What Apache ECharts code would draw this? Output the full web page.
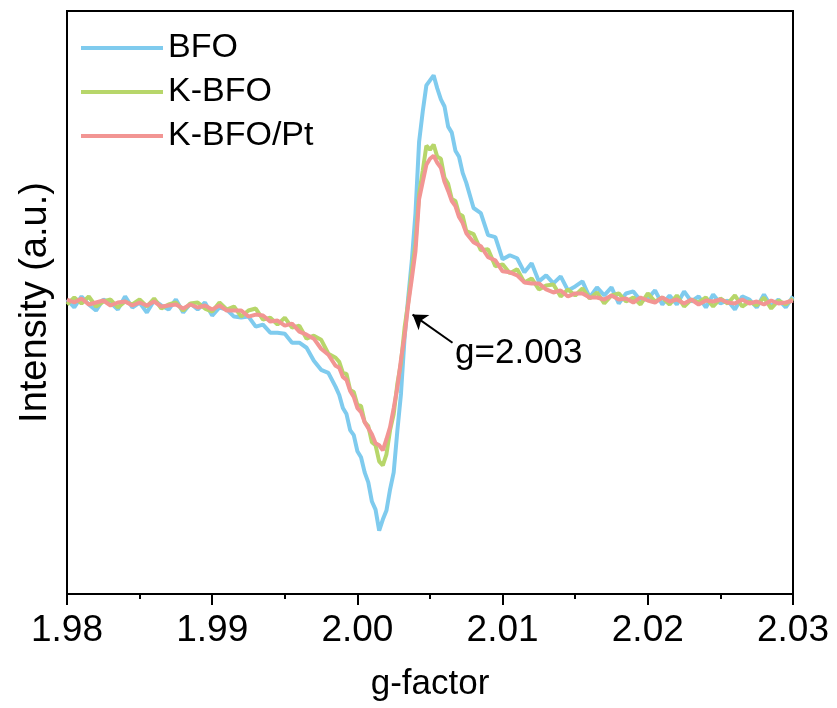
<!DOCTYPE html>
<html>
<head>
<meta charset="utf-8">
<script src="https://cdn.jsdelivr.net/npm/echarts@6/dist/echarts.min.js"></script>
<style>
html,body{margin:0;padding:0;background:#fff;}
#chart{width:837px;height:708px;}
</style>
</head>
<body>
<div id="chart"></div>
<script>
// g-factor sample positions
var gValues = [
  1.9800,1.9805,1.9810,1.9815,1.9820,1.9825,1.9830,1.9835,1.9840,1.9845,
  1.9850,1.9855,1.9860,1.9865,1.9870,1.9875,1.9880,1.9885,1.9890,1.9895,
  1.9900,1.9905,1.9910,1.9915,1.9920,1.9925,1.9930,1.9935,1.9940,1.9945,
  1.9950,1.9955,1.9960,1.9965,1.9970,1.9975,1.9980,1.9985,
  1.99875,1.99900,1.99925,1.99950,1.99975,2.00000,2.00025,2.00050,2.00075,2.00100,
  2.00125,2.00150,2.00175,2.00200,2.00225,2.00250,2.00275,2.00300,2.00325,2.00350,
  2.00375,2.00400,2.00425,2.00450,2.00475,2.00500,2.00525,2.00550,2.00575,2.00600,
  2.00625,2.00650,2.00675,2.00700,2.00725,2.00750,
  2.0080,2.0085,2.0090,2.0095,2.0100,2.0105,2.0110,2.0115,2.0120,2.0125,
  2.0130,2.0135,2.0140,2.0145,2.0150,2.0155,2.0160,2.0165,2.0170,2.0175,
  2.0180,2.0185,2.0190,2.0195,2.0200,2.0205,2.0210,2.0215,2.0220,2.0225,
  2.0230,2.0235,2.0240,2.0245,2.0250,2.0255,2.0260,2.0265,2.0270,2.0275,
  2.0280,2.0285,2.0290,2.0295,2.0300
];
// Intensity (arbitrary units)
var bfo = [
  3,-5,6,-2,-8,3,0,-7,6,-5,0,-10,2,-3,-7,3,-10,-1,-7,0,
  -13,-5,-7,-14,-15,-14,-24,-22,-30,-30,-31,-40,-40,-45,-58,-67,-70,-84,
  -92,-105,-111,-127,-132,-148,-154,-169,-179,-198,-206,-227,-216,-207,-186,-169,-128,-91,-35,5,
  42,89,160,190,216,221,226,213,202,195,175,169,151,145,129,119,
  94,89,67,65,43,47,44,30,39,21,27,19,26,12,16,21,5,15,7,15,
  -1,9,11,2,4,12,-2,7,-2,11,1,6,-5,8,-1,2,-7,6,3,-5,8,-4,3,-5,6
];
var kbfo = [
  -2,5,-1,6,-4,1,3,-5,1,-2,3,-4,4,-6,-2,0,-8,-1,0,-6,
  -9,0,-7,-4,-14,-8,-6,-17,-15,-22,-15,-25,-23,-36,-33,-37,-51,-55,
  -59,-70,-71,-87,-89,-102,-103,-119,-123,-139,-142,-158,-162,-151,-127,-111,-81,-60,-25,0,
  31,58,108,131,156,152,157,145,143,124,118,103,101,88,86,71,
  68,52,53,36,38,29,33,20,24,13,17,18,6,13,7,14,4,10,-1,7,
  9,1,5,-2,9,1,5,-2,7,-4,3,0,5,-4,4,-1,7,-4,1,-3,5,-6,2,-2,4
];
var kbfoPt = [
  3,0,4,-2,0,2,-3,0,1,-3,0,-3,1,-4,-3,-2,-6,-2,-5,-3,
  -7,-3,-8,-8,-8,-14,-12,-13,-19,-18,-23,-21,-29,-32,-36,-46,-52,-63,
  -65,-74,-77,-88,-94,-105,-109,-119,-125,-131,-140,-142,-147,-136,-124,-105,-85,-57,-33,-2,
  24,51,103,120,137,143,146,139,134,120,111,101,96,85,79,69,
  60,56,45,42,31,30,27,20,19,19,13,10,12,6,9,9,5,5,3,7,
  3,4,0,5,2,0,5,1,3,-1,3,-2,2,1,3,0,-1,3,-1,1,-2,2,-1,0,2
];
var seriesNames = ['BFO','K-BFO','K-BFO/Pt'];
var seriesColors = ['#7FCBEE','#B7D66A','#F29593'];
var xTicks = [1.98,1.99,2.00,2.01,2.02,2.03];
// annotation (data space)
var annotArrow = [[2.00655,-40],[2.00380,-12]];
var annotText = {g:2.00669, v:-51, text:'g=2.003'};

function pairs(ys){ return gValues.map(function(g,i){ return [g, ys[i]]; }); }

var FONT = 'Liberation Sans, Arial, Helvetica, sans-serif';
var chart = echarts.init(document.getElementById('chart'), null, {renderer:'canvas'});
var allSeries = [bfo,kbfo,kbfoPt].map(function(arr,i){
  return {
    name: seriesNames[i], type:'line', data: pairs(arr),
    symbol:'none', showSymbol:false, smooth:false,
    lineStyle:{width:4, color:seriesColors[i]},
    itemStyle:{color:seriesColors[i]},
    emphasis:{disabled:true}, z: 2+i
  };
});
allSeries[2].markLine = {
  silent:true, symbol:['none','arrow'], symbolSize:14,
  lineStyle:{color:'#000', width:2, type:'solid'},
  itemStyle:{color:'#000'},
  label:{show:false}, emphasis:{disabled:true},
  data:[[{coord:annotArrow[0]},{coord:annotArrow[1]}]]
};
allSeries[2].markPoint = {
  silent:true, symbol:'circle', symbolSize:1,
  itemStyle:{color:'rgba(0,0,0,0)'},
  label:{show:true, position:'right', distance:0, formatter:annotText.text,
    fontSize:35, color:'#000', fontFamily:FONT},
  data:[{coord:[annotText.g, annotText.v]}]
};

chart.setOption({
  animation:false,
  backgroundColor:'#fff',
  grid:{left:67, right:44, top:11, bottom:114, show:true, borderColor:'#000', borderWidth:2, backgroundColor:'transparent'},
  legend:{
    show:true, left:76, top:23, orient:'vertical', icon:'rect',
    itemWidth:82, itemHeight:4, itemGap:4,
    data: seriesNames,
    textStyle:{fontSize:34, color:'#000', fontFamily:FONT, lineHeight:40, padding:[0,0,0,0]}
  },
  xAxis:{
    type:'value', min:xTicks[0], max:xTicks[xTicks.length-1], interval:0.01,
    name:'g-factor', nameLocation:'middle', nameGap:73,
    nameTextStyle:{fontSize:35, color:'#000', fontFamily:FONT},
    axisLine:{show:true, onZero:false, lineStyle:{color:'#000', width:2}},
    axisTick:{show:true, inside:false, length:11, lineStyle:{color:'#000', width:2}},
    minorTick:{show:true, splitNumber:2, length:5, lineStyle:{color:'#000', width:2}},
    axisLabel:{fontSize:37, color:'#000', fontFamily:FONT, margin:18,
      formatter:function(v){ return v.toFixed(2); }},
    splitLine:{show:false}
  },
  yAxis:{
    type:'value', min:-290, max:290,
    name:'Intensity (a.u.)', nameLocation:'middle', nameGap:12,
    nameTextStyle:{fontSize:38, color:'#000', fontFamily:FONT},
    axisLine:{show:true, onZero:false, lineStyle:{color:'#000', width:2}},
    axisTick:{show:false}, axisLabel:{show:false}, splitLine:{show:false}
  },
  series: allSeries
});
</script>
</body>
</html>
